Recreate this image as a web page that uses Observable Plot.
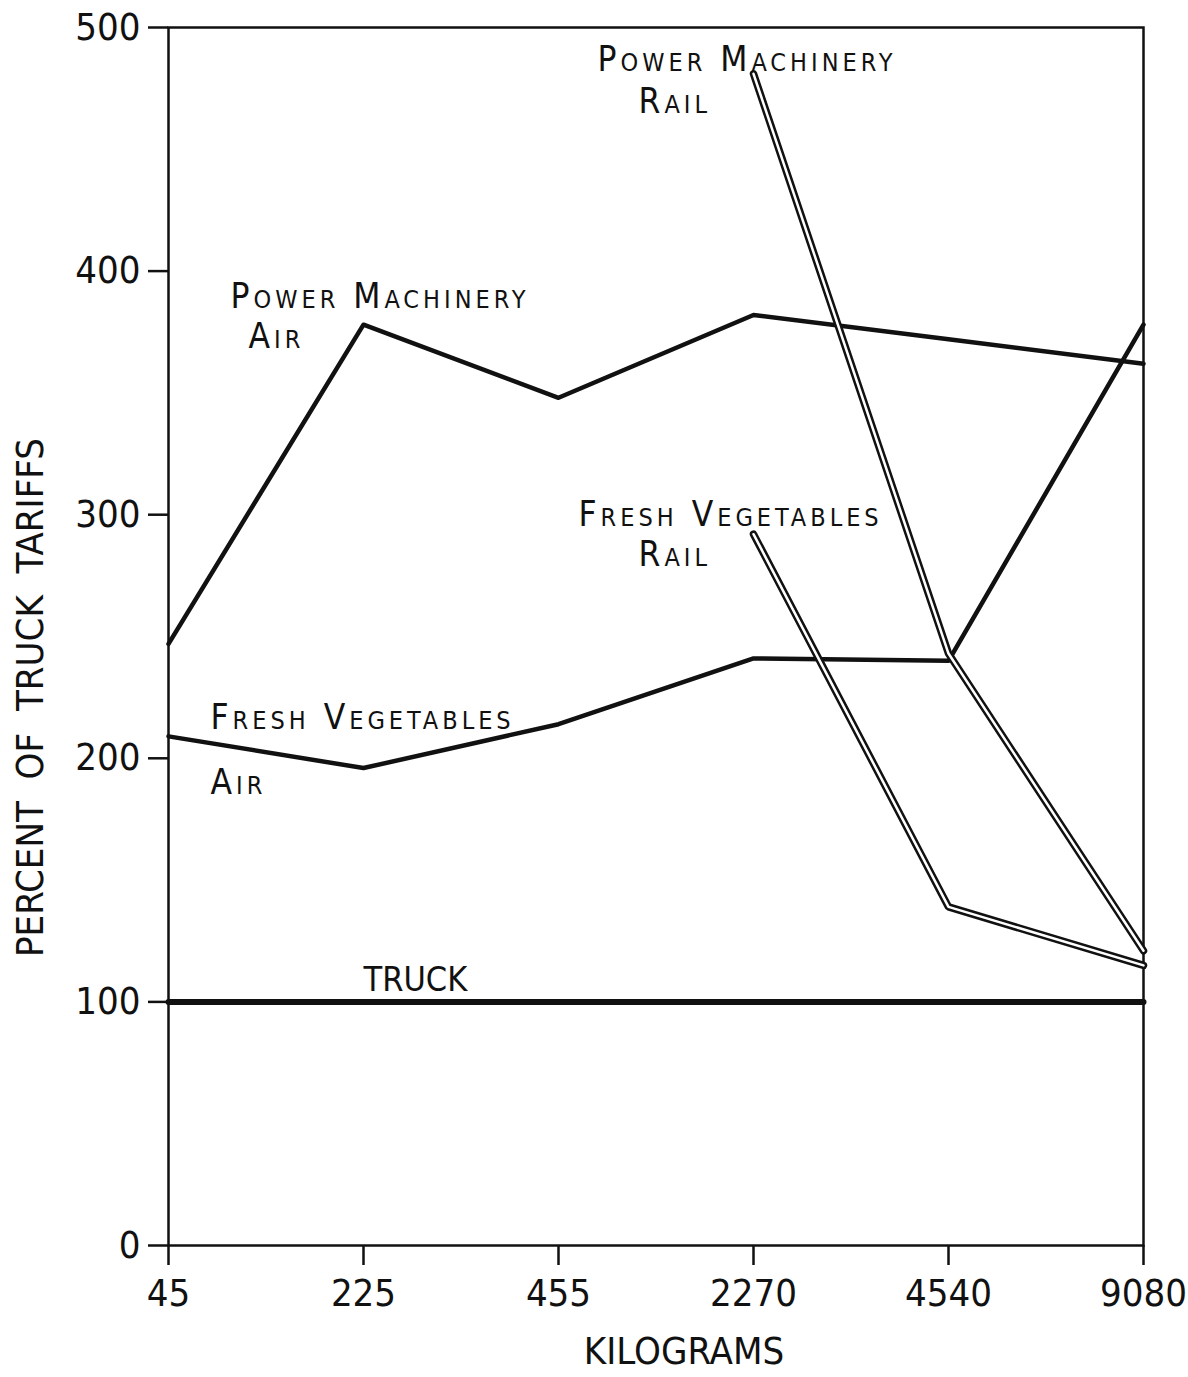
<!DOCTYPE html>
<html>
<head>
<meta charset="utf-8">
<script src="https://cdn.jsdelivr.net/npm/d3@7"></script>
<script src="https://cdn.jsdelivr.net/npm/@observablehq/plot@0.6"></script>
<style>
  html, body { margin: 0; padding: 0; background: #fff; }
  #chart svg { display: block; }
</style>
</head>
<body>
<div id="chart"></div>
<script>
// ---- data ----
const categories = ["45", "225", "455", "2270", "4540", "9080"];
const yTicks = [0, 100, 200, 300, 400, 500];
const powerMachineryAir = [247, 378, 348, 382, 372, 362];
const freshVegetablesAir = [209, 196, 214, 241, 240, 378];
const railCategories = ["2270", "4540", "9080"];
const powerMachineryRail = [481, 243, 121];
const freshVegetablesRail = [292, 139, 115];
const truck = [100, 100, 100, 100, 100, 100];

const toRows = (cats, vals) => cats.map((c, i) => ({kg: c, pct: vals[i]}));
const pmAir = toRows(categories, powerMachineryAir);
const fvAir = toRows(categories, freshVegetablesAir);
const pmRail = toRows(railCategories, powerMachineryRail);
const fvRail = toRows(railCategories, freshVegetablesRail);
const truckRows = toRows(categories, truck);

const FONT = "'Liberation Sans Narrow', 'DejaVu Sans Condensed', 'Roboto Condensed', 'Liberation Sans', sans-serif";
const INK = "#111";
const spacedLabels = ["Power Machinery", "Fresh Vegetables", "Air", "Rail"];

const label = (txt, kg, pct, dx, opts = {}) =>
  Plot.text([txt], {
    x: () => kg, y: () => pct, text: d => d, dx,
    textAnchor: "start", lineAnchor: "bottom",
    fontSize: 35, fontVariant: "small-caps", fill: INK,
    ...opts
  });

const chart = Plot.plot({
  width: 1188,
  height: 1377,
  marginLeft: 168,
  marginRight: 45,
  marginTop: 27,
  marginBottom: 132,
  style: {fontFamily: FONT, color: INK, background: "#fff"},
  x: {type: "point", domain: categories, padding: 0},
  y: {domain: [0, 500]},
  marks: [
    Plot.frame({stroke: INK, strokeWidth: 2.5}),
    Plot.axisY({ticks: yTicks, tickSize: 20, tickPadding: 8, fontSize: 38, label: null, strokeWidth: 2.5}),
    Plot.axisX({tickSize: 20, tickPadding: 14, fontSize: 38, label: null, strokeWidth: 2.5}),
    // truck baseline
    Plot.line(truckRows, {x: "kg", y: "pct", stroke: INK, strokeWidth: 6}),
    // air series (solid heavy lines)
    Plot.line(pmAir, {x: "kg", y: "pct", stroke: INK, strokeWidth: 4.5}),
    Plot.line(fvAir, {x: "kg", y: "pct", stroke: INK, strokeWidth: 4.5}),
    // rail series (double lines)
    Plot.line(pmRail, {x: "kg", y: "pct", stroke: INK, strokeWidth: 7.5, strokeLinejoin: "miter"}),
    Plot.line(pmRail, {x: "kg", y: "pct", stroke: "#fff", strokeWidth: 2.5, strokeLinejoin: "miter"}),
    Plot.line(fvRail, {x: "kg", y: "pct", stroke: INK, strokeWidth: 7.5, strokeLinejoin: "miter"}),
    Plot.line(fvRail, {x: "kg", y: "pct", stroke: "#fff", strokeWidth: 2.5, strokeLinejoin: "miter"}),
    // annotations
    label("Power Machinery", "45", 385, 62),
    label("Air", "45", 368.5, 80),
    label("Power Machinery", "2270", 482, -156),
    label("Rail", "2270", 465, -115),
    label("Fresh Vegetables", "2270", 295.5, -175),
    label("Rail", "2270", 279, -115),
    label("Fresh Vegetables", "45", 212, 42),
    label("Air", "45", 185.5, 42),
    label("TRUCK", "225", 104.5, 0, {fontVariant: null, fontSize: 34}),
    // axis titles
    Plot.text(["KILOGRAMS"], {frameAnchor: "bottom", text: d => d, textAnchor: "middle", dx: 28, dy: 118, lineAnchor: "bottom", fontSize: 38, fill: INK}),
    Plot.text(["PERCENT  OF  TRUCK  TARIFFS"], {frameAnchor: "left", text: d => d, rotate: -90, textAnchor: "middle", dx: -138, dy: 61, lineAnchor: "middle", fontSize: 38, fill: INK})
  ]
});

d3.select(chart).selectAll("text")
  .filter(function() { return spacedLabels.includes(this.textContent); })
  .attr("letter-spacing", "4px");
d3.select(chart).selectAll("text").style("white-space", "pre");
document.getElementById("chart").appendChild(chart);
</script>
</body>
</html>
